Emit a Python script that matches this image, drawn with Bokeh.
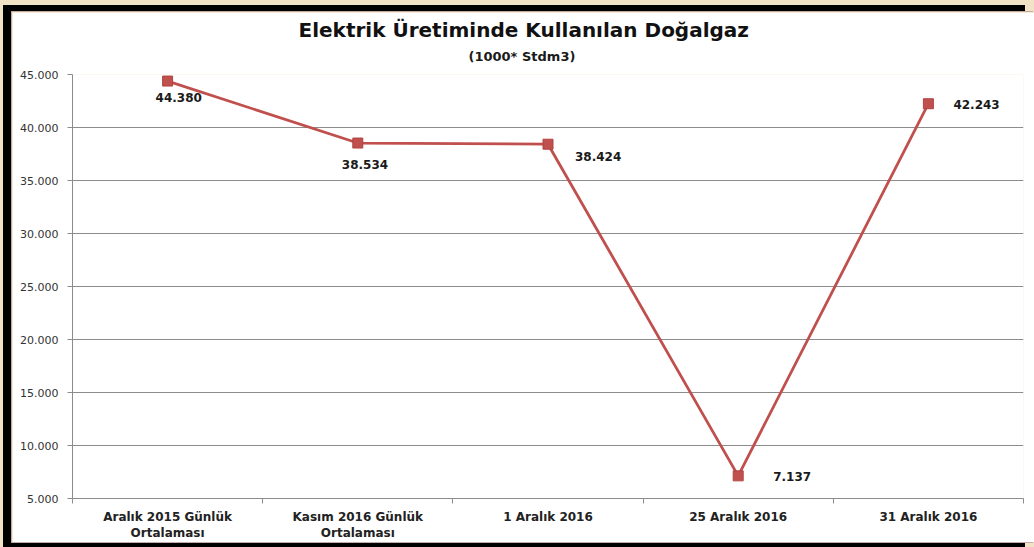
import numpy as np
from bokeh.plotting import figure
from bokeh.models import (ColumnDataSource, Range1d, FixedTicker, LabelSet, Title,
                          GlobalInlineStyleSheet)
from bokeh.core.properties import value
from bokeh.embed import file_html
from bokeh.resources import INLINE

# ---- data ----
categories = ["Aralık 2015 Günlük\nOrtalaması", "Kasım 2016 Günlük\nOrtalaması",
              "1 Aralık 2016", "25 Aralık 2016", "31 Aralık 2016"]
values = [44380, 38534, 38424, 7137, 42243]
y_ticks = [5000, 10000, 15000, 20000, 25000, 30000, 35000, 40000, 45000]
y_tick_labels = ["5.000", "10.000", "15.000", "20.000", "25.000",
                 "30.000", "35.000", "40.000", "45.000"]
title_text = "Elektrik Üretiminde Kullanılan Doğalgaz"
subtitle_text = "(1000* Stdm3)"

# label placement (pixels: right, down) - styling only
label_dx = [-12, -16, 27, 35, 25]
label_dy = [16, 21, 12, 1, 1]

RED = "#c0504d"
GRID = "#8c8c8c"

xs = np.arange(len(categories)) + 0.5
value_labels = [f"{v:,}".replace(",", ".") for v in values]

src = ColumnDataSource(dict(x=xs, y=values, t=value_labels,
                            dx=label_dx, dy=[-d for d in label_dy]))

p = figure(width=1022, height=530, output_backend="svg", toolbar_location=None,
           x_range=Range1d(0, len(categories)), y_range=Range1d(y_ticks[0], y_ticks[-1]),
           min_border_left=60, min_border_right=11, min_border_top=62, min_border_bottom=44,
           title=None)
p.margin = (12, 0, 0, 12)
p.border_fill_color = "white"
p.background_fill_color = "white"
p.outline_line_color = None
p.styles = {"box-shadow": ("-1px -1px 0 0 #c4aaa6, -1px 1px 0 0 #c4aaa6, "
                           "-9px 0 0 0 #000000, -9px -7px 0 0 #000000, -9px 9px 0 0 #000000, "
                           "12px 0 0 0 #ffffff")}
p.stylesheets = [GlobalInlineStyleSheet(css="html, body { background: #f2e3c6; overflow: hidden; }")]

# titles (first added sits closest to the plot)
p.add_layout(Title(text=subtitle_text, align="left", offset=396,
                   text_font="DejaVu Sans", text_font_size="13px", text_font_style="bold",
                   text_color="#1a1a1a", standoff=21), "above")
p.add_layout(Title(text=title_text, align="left", offset=226,
                   text_font="DejaVu Sans", text_font_size="20px", text_font_style="bold",
                   text_color="#111111", standoff=-10), "above")

# axes
xa = p.xaxis[0]
xa.ticker = FixedTicker(ticks=list(xs), minor_ticks=list(range(len(categories) + 1)))
xa.major_label_overrides = {float(x): c for x, c in zip(xs, categories)}
xa.major_tick_line_color = None
xa.major_tick_out = 0
xa.major_tick_in = 0
xa.minor_tick_out = 5
xa.minor_tick_in = 0
xa.minor_tick_line_color = GRID
xa.axis_line_color = GRID
xa.major_label_standoff = 6
xa.major_label_text_font = "DejaVu Sans"
xa.major_label_text_font_style = "bold"
xa.major_label_text_font_size = "12px"
xa.major_label_text_color = "#222222"
xa.major_label_text_line_height = 1.15

ya = p.yaxis[0]
ya.ticker = FixedTicker(ticks=y_ticks, minor_ticks=[])
ya.major_label_overrides = {t: l for t, l in zip(y_ticks, y_tick_labels)}
ya.axis_line_color = GRID
ya.major_tick_line_color = GRID
ya.major_tick_out = 5
ya.major_tick_in = 0
ya.minor_tick_line_color = None
ya.major_label_standoff = 9
ya.major_label_text_font = "DejaVu Sans"
ya.major_label_text_font_size = "11px"
ya.major_label_text_color = "#333333"

p.xgrid.grid_line_color = None
p.ygrid.grid_line_color = GRID
p.ygrid.grid_line_width = 1

# series
p.line("x", "y", source=src, line_color=RED, line_width=2.8)
p.scatter("x", "y", source=src, marker="square", size=10, fill_color=RED, line_color="#b04541")

labels = LabelSet(x="x", y="y", text="t", source=src, x_offset="dx", y_offset="dy",
                  text_align="left", text_baseline="middle",
                  text_font=value("DejaVu Sans"), text_font_style="bold", text_font_size="12px",
                  text_color="#1a1a1a")
p.add_layout(labels)

open("out.html", "w").write(file_html(p, INLINE))
